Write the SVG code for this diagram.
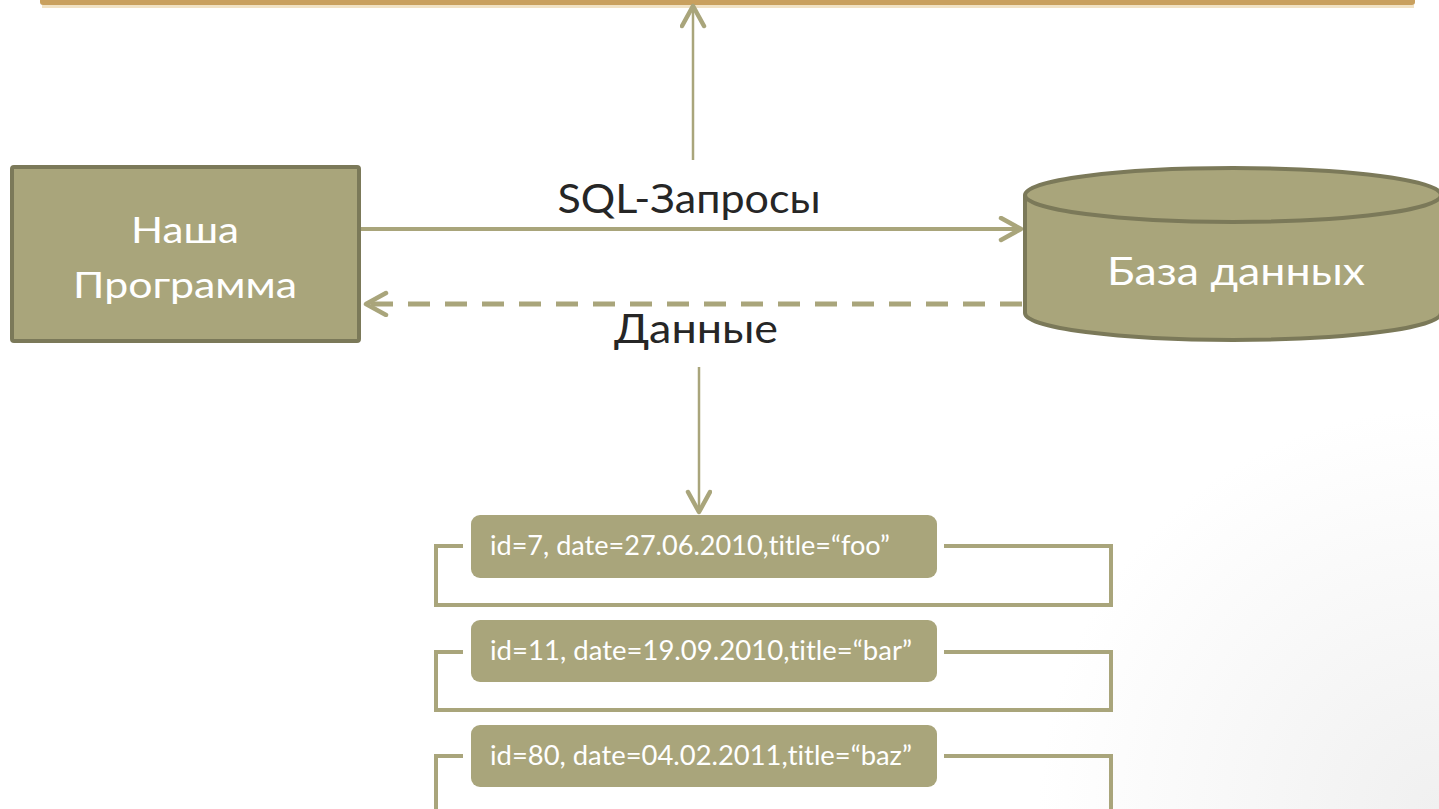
<svg xmlns="http://www.w3.org/2000/svg" width="1439" height="809" viewBox="0 0 1439 809">
  <defs>
    <radialGradient id="bg" cx="1439" cy="809" r="400" gradientUnits="userSpaceOnUse">
      <stop offset="0" stop-color="#F0F0F0"/>
      <stop offset="1" stop-color="#FFFFFF"/>
    </radialGradient>
    <marker id="arrow" markerUnits="userSpaceOnUse" markerWidth="30" markerHeight="30" viewBox="0 0 30 30" refX="24" refY="13" orient="auto">
      <path d="M4,2 L24,13 L4,24" fill="none" stroke="#A9A57B" stroke-width="4.5" stroke-linecap="round" stroke-linejoin="round" stroke-dasharray="none"/>
    </marker>
    <style>
      .node { fill: #A9A57B; stroke: #7B7959; stroke-width: 4; }
      .rec { fill: #A9A57B; }
      .conn { fill: none; stroke: #A9A57B; }
      .bracket { fill: none; stroke: #A9A57B; stroke-width: 4; }
      text { font-variant-ligatures: none; font-feature-settings: "liga" 0, "clig" 0; }
      .wt { fill: #FFFFFF; font-family: Lato, "Open Sans", "Noto Sans", sans-serif; }
      .dk { fill: #262626; font-family: Lato, "Open Sans", "Noto Sans", sans-serif; }
    </style>
  </defs>
  <rect x="0" y="0" width="1439" height="809" fill="url(#bg)"/>

  <g id="top-bar">
    <rect x="42" y="5" width="1372" height="3" fill="#F1E2C4"/>
    <rect x="40" y="-6" width="1375" height="11" rx="3" fill="#C9A05E"/>
  </g>

  <g id="connectors">
    <path class="conn" d="M693,160 V6" stroke-width="2.5" marker-end="url(#arrow)"/>
    <path class="conn" d="M360,229 H1021" stroke-width="4" marker-end="url(#arrow)"/>
    <path class="conn" d="M1022,304 H366" stroke-width="5" stroke-dasharray="22 15" marker-end="url(#arrow)"/>
    <path class="conn" d="M699,367 V512" stroke-width="2.5" marker-end="url(#arrow)"/>
  </g>

  <g id="program">
    <rect class="node" x="12" y="167" width="347" height="174" rx="2"/>
    <text class="wt" x="185" y="243" font-size="37" text-anchor="middle" textLength="108" lengthAdjust="spacingAndGlyphs">Наша</text>
    <text class="wt" x="185" y="298" font-size="37" text-anchor="middle" textLength="224" lengthAdjust="spacingAndGlyphs">Программа</text>
  </g>

  <g id="database">
    <path class="node" d="M1025,195 V313 A208,27 0 0 0 1441,313 V195"/>
    <ellipse class="node" cx="1233" cy="195" rx="208" ry="27"/>
    <text class="wt" x="1236" y="285" font-size="39" text-anchor="middle" textLength="258" lengthAdjust="spacingAndGlyphs">База данных</text>
  </g>

  <g id="label-sql">
    <text class="dk" x="689" y="213" font-size="41" text-anchor="middle" textLength="263" lengthAdjust="spacingAndGlyphs">SQL-Запросы</text>
  </g>
  <g id="label-data">
    <text class="dk" x="696" y="343" font-size="41" text-anchor="middle" textLength="164" lengthAdjust="spacingAndGlyphs">Данные</text>
  </g>

  <g id="record-1">
    <path class="bracket" d="M463,546 H436 V605 H1111 V546 H944"/>
    <rect class="rec" x="471" y="515" width="466" height="63" rx="9"/>
    <text class="wt" x="490" y="555" font-size="26" textLength="400" lengthAdjust="spacingAndGlyphs">id=7, date=27.06.2010,title=“foo”</text>
  </g>
  <g id="record-2">
    <path class="bracket" d="M463,652 H436 V710 H1111 V652 H944"/>
    <rect class="rec" x="471" y="620" width="466" height="62" rx="9"/>
    <text class="wt" x="490" y="660" font-size="26" textLength="422" lengthAdjust="spacingAndGlyphs">id=11, date=19.09.2010,title=“bar”</text>
  </g>
  <g id="record-3">
    <path class="bracket" d="M463,756 H436 V815 H1111 V756 H944"/>
    <rect class="rec" x="471" y="725" width="466" height="62" rx="9"/>
    <text class="wt" x="490" y="765" font-size="26" textLength="422" lengthAdjust="spacingAndGlyphs">id=80, date=04.02.2011,title=“baz”</text>
  </g>
</svg>
